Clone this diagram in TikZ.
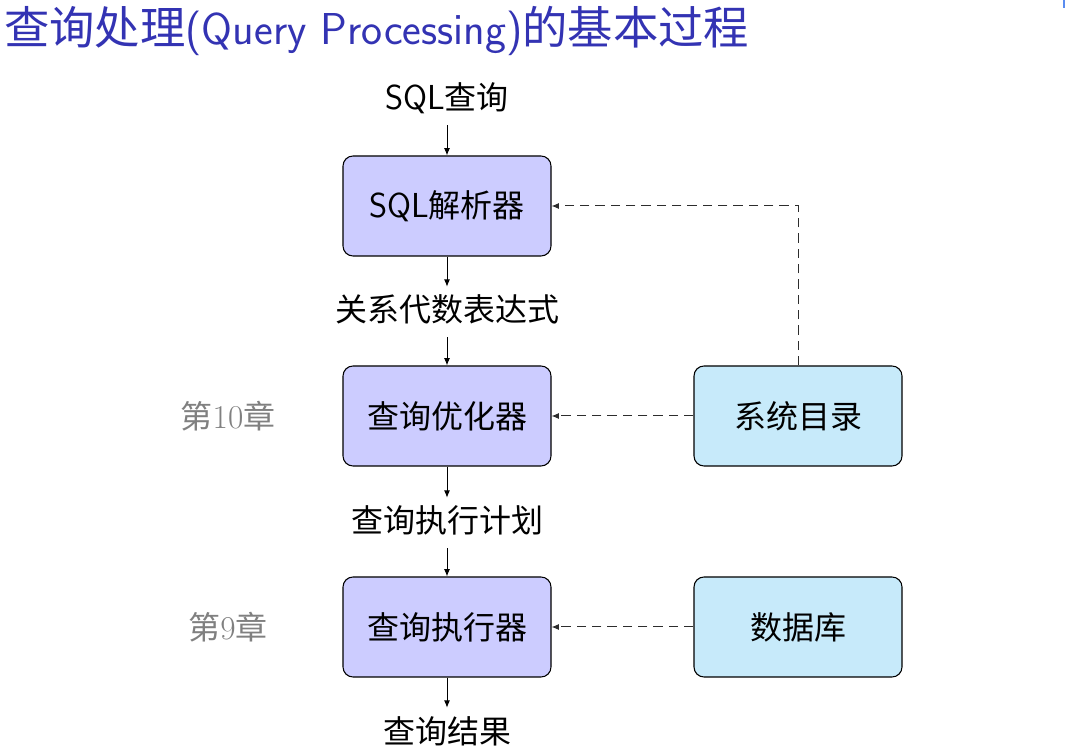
\documentclass[tikz,border=0pt]{standalone}
\usepackage{fontspec}
\usetikzlibrary{arrows.meta,positioning}
\newfontfamily\cjk{Noto Sans CJK SC}
\definecolor{titleblue}{RGB}{51,51,179}
\definecolor{procfill}{RGB}{204,204,255}
\definecolor{datafill}{RGB}{199,234,250}
\definecolor{dashgray}{RGB}{45,45,45}
\newcommand{\lat}[1]{{\sffamily\fontsize{26}{30}\selectfont #1}}
\newcommand{\dig}[1]{{\rmfamily\fontsize{25}{30}\selectfont #1}}
\tikzset{
  procbox/.style={draw=black, line width=0.8pt, fill=procfill, rounded corners=7.5pt,
    minimum width=156pt, minimum height=75pt, inner sep=0pt,
    font=\cjk\fontsize{24}{28}\selectfont},
  databox/.style={procbox, fill=datafill},
  flowlabel/.style={inner sep=0pt, minimum height=37.5pt, text height=18pt, text depth=3pt,
    font=\cjk\fontsize{24}{28}\selectfont},
  chaplabel/.style={inner sep=0pt, text=gray, font=\cjk\fontsize{24}{28}\selectfont},
  flow/.style={line width=0.75pt, -{Latex[length=5.5pt,width=4.5pt]}},
  feed/.style={line width=0.75pt, dashgray, dash pattern=on 7pt off 4.5pt, -{Latex[length=5.5pt,width=4.5pt]}}
}
\begin{document}
\begin{tikzpicture}[x=0.75pt,y=-0.75pt]
\useasboundingbox (0,0) rectangle (1065,755);
\fill[color={rgb,255:red,90;green,140;blue,240}] (1063,0) rectangle (1065,8);
% title
\node[anchor=west, inner sep=0pt, text=titleblue, font=\cjk\fontsize{34}{38}\selectfont] (title) at (4,31)
  {查询处理{\sffamily\fontsize{33.5}{38}\selectfont (Query Processing)}的基本过程};
% flow
\node[flowlabel] (sql) at (447,100) {\lat{SQL}查询};
\node[procbox] (parser) at (447,206) {\lat{SQL}解析器};
\node[flowlabel] (ra) at (447,312) {关系代数表达式};
\node[procbox] (opt) at (447,416) {查询优化器};
\node[flowlabel] (plan) at (447,523) {查询执行计划};
\node[procbox] (exec) at (447,627) {查询执行器};
\node[flowlabel] (res) at (447,733) {查询结果};
\node[databox] (cat) at (798,416) {系统目录};
\node[databox] (db) at (798,627) {数据库};
\node[chaplabel] (ch10) at (228,416) {第\dig{10}章};
\node[chaplabel] (ch9) at (228,627) {第\dig{9}章};
\coordinate (corner) at (cat.north |- parser.east);
% connectors
\draw[flow] (sql.south) -- (parser.north);
\draw[flow] (parser.south) -- (ra.north);
\draw[flow] (ra.south) -- (opt.north);
\draw[flow] (opt.south) -- (plan.north);
\draw[flow] (plan.south) -- (exec.north);
\draw[flow] (exec.south) -- (res.north);
\draw[feed] (cat.west) -- (opt.east);
\draw[feed] (db.west) -- (exec.east);
\draw[feed] (cat.north) -- (corner) -- (parser.east);
\end{tikzpicture}
\end{document}
